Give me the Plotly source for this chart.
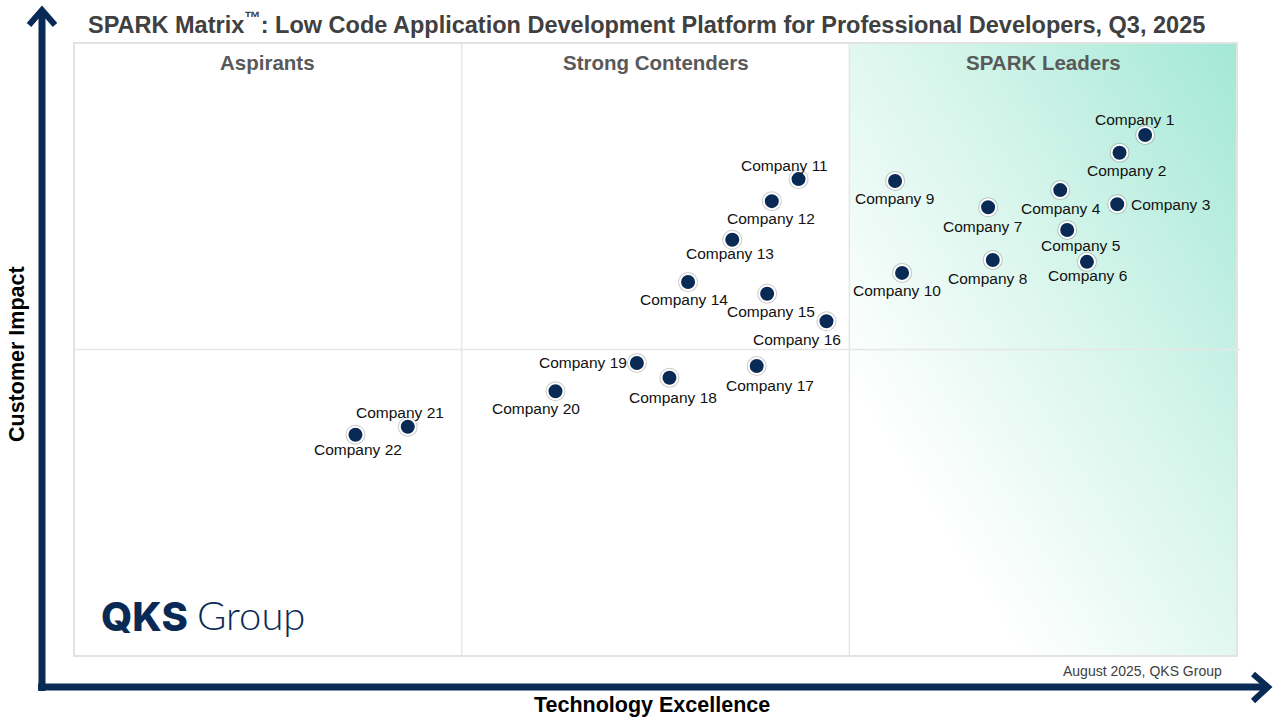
"""SPARK Matrix quadrant chart: Low Code Application Development Platform, Q3 2025."""

import base64

import plotly.graph_objects as go

# Scores on a 0-100 scale.
companies = [f"Company {i}" for i in range(1, 23)]
technology_excellence = [
    92.1, 89.9, 89.7, 84.8, 85.4, 87.1, 78.6, 79.0, 70.6, 71.2, 62.3,
    60.0, 56.6, 52.8, 59.6, 64.7, 58.7, 51.2, 48.4, 41.4, 28.7, 24.2,
]
customer_impact = [
    85.0, 82.1, 73.7, 76.0, 69.5, 64.3, 73.2, 64.6, 77.5, 62.5, 77.8,
    74.2, 67.9, 61.0, 59.1, 54.6, 47.3, 45.4, 47.8, 43.2, 37.4, 36.1,
]
quadrant_names = ["Aspirants", "Strong Contenders", "SPARK Leaders"]

# label offsets (px) relative to each dot, plus anchor
label_offsets = [
    (-11, -15, "center"), (7, 18, "center"), (12, 0, "left"), (1, 18, "center"),
    (13, 16, "center"), (1, 14, "center"), (-6, 19, "center"), (-5, 18, "center"),
    (-1, 18, "center"), (-5, 18, "center"), (-14, -14, "center"), (-1, 17, "center"),
    (-2, 14, "center"), (-4, 17, "center"), (4, 18, "center"), (-29, 18, "center"),
    (13, 19, "center"), (4, 20, "center"), (-8, 0, "right"), (-19, 17, "center"),
    (-8, -14, "center"), (3, 15, "center"),
]

W, H = 1280, 720
PLOT_L, PLOT_R, PLOT_T, PLOT_B = 74, 1237, 43, 656
NAVY = "#0a2a56"
FONT = "Liberation Sans, Arial, sans-serif"


def px(x, y):
    """Pixel position in the page -> paper coordinates."""
    return (x - PLOT_L) / (PLOT_R - PLOT_L), (PLOT_B - y) / (PLOT_B - PLOT_T)


def path(points):
    parts = []
    for i, (x, y) in enumerate(points):
        u, v = px(x, y)
        parts.append(("M" if i == 0 else "L") + f"{u:.5f},{v:.5f}")
    return " ".join(parts)


# diagonal gradient for the leaders quadrant
gradient_svg = (
    '<svg xmlns="http://www.w3.org/2000/svg" width="100" height="100" '
    'preserveAspectRatio="none">'
    '<defs><linearGradient id="g" x1="0" y1="1" x2="1" y2="0">'
    '<stop offset="0.22" stop-color="#ffffff"/>'
    '<stop offset="0.6" stop-color="#d6f5eb"/>'
    '<stop offset="1" stop-color="#a3e8d5"/>'
    "</linearGradient></defs>"
    '<rect width="100" height="100" fill="url(#g)"/></svg>'
)
gradient_uri = "data:image/svg+xml;base64," + base64.b64encode(
    gradient_svg.encode()).decode()

fig = go.Figure()

fig.add_trace(go.Scatter(
    x=technology_excellence, y=customer_impact, mode="markers",
    marker=dict(size=20, color="rgba(110,110,110,0.35)"),
    hoverinfo="skip", showlegend=False,
))
fig.add_trace(go.Scatter(
    x=technology_excellence, y=customer_impact, mode="markers",
    marker=dict(size=16, color=NAVY, line=dict(color="white", width=2)),
    text=companies, hovertemplate="%{text}<extra></extra>", showlegend=False,
))

for name, xv, yv, (dx, dy, anchor) in zip(
        companies, technology_excellence, customer_impact, label_offsets):
    fig.add_annotation(
        x=xv, y=yv, text=name, showarrow=False, xanchor=anchor, yanchor="middle",
        xshift=dx, yshift=-dy, font=dict(family=FONT, size=15.5, color="#111111"),
    )

# quadrant headings
for i, name in enumerate(quadrant_names):
    fig.add_annotation(
        x=(i + 0.5) / 3, y=px(0, 62)[1], xref="paper", yref="paper",
        text=f"<b>{name}</b>", showarrow=False, xanchor="center", yanchor="middle",
        font=dict(family=FONT, size=20.5, color="#595959"),
    )

shapes = [
    dict(type="line", xref="paper", yref="paper", x0=1 / 3, x1=1 / 3, y0=0, y1=1,
         line=dict(color="#e6e6e6", width=1.5), layer="below"),
    dict(type="line", xref="paper", yref="paper", x0=2 / 3, x1=2 / 3, y0=0, y1=1,
         line=dict(color="#e6e6e6", width=1.5), layer="below"),
    dict(type="line", xref="paper", yref="paper", x0=0, x1=1.003, y0=0.5, y1=0.5,
         line=dict(color="#e6e6e6", width=1.5), layer="below"),
    dict(type="rect", xref="paper", yref="paper", x0=0, x1=1, y0=0, y1=1,
         line=dict(color="#e3e3e3", width=2), layer="below"),
    # axis arrows
    dict(type="path", xref="paper", yref="paper",
         path=path([(42, 691), (42, 10)]), line=dict(color=NAVY, width=7)),
    dict(type="path", xref="paper", yref="paper",
         path=path([(29, 25), (42, 10), (55, 25)]), line=dict(color=NAVY, width=6)),
    dict(type="path", xref="paper", yref="paper",
         path=path([(38, 687), (1266, 687)]), line=dict(color=NAVY, width=7)),
    dict(type="path", xref="paper", yref="paper",
         path=path([(1253, 674), (1268, 687), (1253, 701)]),
         line=dict(color=NAVY, width=6)),
]

fig.add_layout_image(
    source=gradient_uri, xref="paper", yref="paper", x=2 / 3, y=1,
    sizex=1 / 3, sizey=1, sizing="stretch", xanchor="left", yanchor="top",
    layer="below",
)

texts = [
    ("SPARK Matrix<sup>™</sup>: Low Code Application Development Platform for "
     "Professional Developers, Q3, 2025", 86, 23, "left", 23.5, "#404040", True),
    ("Customer Impact", 17, 354, "center", 21.5, "#000000", True),
    ("Technology Excellence", 652, 705, "center", 21.5, "#000000", True),
    ("August 2025, QKS Group", 1224, 671, "right", 14, "#404040", False),
]
for text, tx, ty, anchor, size, color, bold in texts:
    u, v = px(tx, ty)
    fig.add_annotation(
        x=u, y=v, xref="paper", yref="paper", showarrow=False,
        text=f"<b>{text}</b>" if bold else text, xanchor=anchor, yanchor="middle",
        textangle=-90 if text == "Customer Impact" else 0,
        font=dict(family=FONT, size=size, color=color),
    )

# QKS Group logo
u, v = px(99, 616)
fig.add_annotation(x=u, y=v, xref="paper", yref="paper", showarrow=False,
                   text="QKS", xanchor="left", yanchor="middle",
                   font=dict(family="Inter", size=40, color=NAVY, weight=800))
u, v = px(195, 615)
fig.add_annotation(x=u, y=v, xref="paper", yref="paper", showarrow=False,
                   text="Group", xanchor="left", yanchor="middle",
                   font=dict(family="Lato", size=40, color=NAVY, weight=300))

fig.update_layout(
    width=W, height=H,
    margin=dict(l=PLOT_L, r=W - PLOT_R, t=PLOT_T, b=H - PLOT_B),
    paper_bgcolor="white", plot_bgcolor="white",
    xaxis=dict(range=[0, 100], visible=False, fixedrange=True),
    yaxis=dict(range=[0, 100], visible=False, fixedrange=True),
    shapes=shapes,
    showlegend=False,
)

fig.write_html(
    "out.html",
    config={"displayModeBar": False},
    post_script="document.body.style.margin='0';",
)
